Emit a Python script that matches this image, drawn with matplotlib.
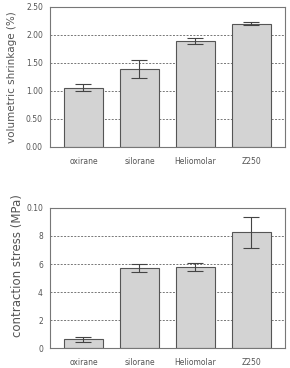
import matplotlib
matplotlib.use("Agg")
import matplotlib.pyplot as plt

# materials
materials = ['oxirane', 'silorane', 'Heliomolar', 'Z250']

# volumetric shrinkage (%)
shrink_mean = [1.06, 1.39, 1.89, 2.20]
shrink_err = [0.07, 0.16, 0.06, 0.03]
shrink_ticks = [0.0, 0.5, 1.0, 1.5, 2.0, 2.5]
shrink_labels = ['0.00', '0.50', '1.00', '1.50', '2.00', '2.50']

# contraction stress (MPa)
stress_mean = [0.64, 5.71, 5.79, 8.26]
stress_err = [0.18, 0.30, 0.28, 1.10]
stress_ticks = [0, 2, 4, 6, 8, 10]
stress_labels = ['0', '2', '4', '6', '8', '0.10']

fig = plt.figure(figsize=(2.9, 3.68), dpi=100)
ax1 = fig.add_axes([0.172, 0.601, 0.811, 0.380])
ax2 = fig.add_axes([0.172, 0.054, 0.811, 0.381])

txt = '#555555'


def draw(ax, means, errs, ticks, labels, ylabel, lsize):
    x = range(len(materials))
    ax.bar(x, means, width=0.68, color='#d3d3d3', edgecolor='#555555',
           linewidth=0.8, zorder=2)
    ax.errorbar(x, means, yerr=errs, fmt='none', ecolor='#444444',
                elinewidth=0.8, capsize=6, capthick=0.8, zorder=3)
    ax.set_xlim(-0.6, 3.6)
    ax.set_ylim(ticks[0], ticks[-1])
    ax.set_yticks(ticks)
    ax.set_yticklabels(labels)
    ax.set_xticks(list(x))
    ax.set_xticklabels(materials)
    for t in ticks[1:]:
        ax.axhline(t, color='#777777', linestyle=(0, (2, 1.5)),
                   linewidth=0.7, zorder=1)
    ax.tick_params(length=0, labelsize=5.5, colors=txt)
    ax.tick_params(axis='y', pad=5)
    ax.tick_params(axis='x', pad=7)
    for s in ax.spines.values():
        s.set_color('#777777')
        s.set_linewidth(0.8)
    ax.set_ylabel(ylabel, fontsize=lsize, color=txt)


draw(ax1, shrink_mean, shrink_err, shrink_ticks, shrink_labels,
     'volumetric shrinkage (%)', 7.5)
draw(ax2, stress_mean, stress_err, stress_ticks, stress_labels,
     'contraction stress (MPa)', 8.5)
ax1.yaxis.set_label_coords(-0.14, 0.5)
ax2.yaxis.set_label_coords(-0.11, 0.59)

fig.savefig('out.png', dpi=100)
